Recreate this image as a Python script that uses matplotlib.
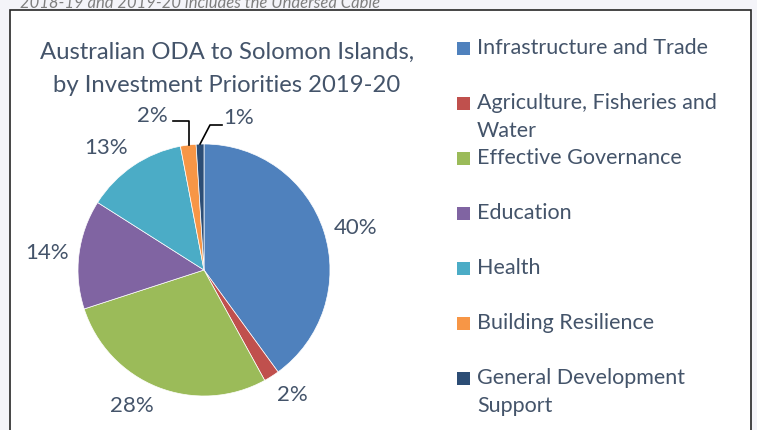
import numpy as np
import matplotlib.pyplot as plt
from matplotlib.patches import Rectangle

categories = ['Infrastructure and Trade', 'Agriculture, Fisheries and\nWater',
              'Effective Governance', 'Education', 'Health',
              'Building Resilience', 'General Development\nSupport']
shares = [40, 2, 28, 14, 13, 2, 1]
colors = ['#4F81BD', '#C0504D', '#9BBB59', '#8064A2', '#4BACC6', '#F79646', '#2C4D75']

title = 'Australian ODA to Solomon Islands,\nby Investment Priorities 2019-20'
note = '2018-19 and 2019-20 includes the Undersea Cable'

text_color = '#44546A'
plt.rcParams['font.family'] = ['Lato', 'DejaVu Sans']

W, H = 757, 430
fig = plt.figure(figsize=(W / 100, H / 100), dpi=100)
fig.patch.set_facecolor('#F4F4F9')

# axes in pixel units, y going up
ax = fig.add_axes([0, 0, 1, 1])

# chart frame
ax.add_patch(Rectangle((10, -5), 741, H - 9.5 + 5, facecolor='white',
                       edgecolor='#262626', lw=1.2, zorder=0))
ax.text(20, H - 3, note, fontsize=12, style='italic', color='#7F7F7F',
        ha='left', va='center')

cx, cy, r = 204, H - 270, 126
wedges, _ = ax.pie(shares, colors=colors, startangle=90, counterclock=False,
                   center=(cx, cy), radius=r, frame=True,
                   wedgeprops=dict(edgecolor='white', linewidth=0.5))
ax.set_xlim(0, W)
ax.set_ylim(0, H)
ax.set_aspect('equal')
ax.axis('off')

for k, line in enumerate(title.split('\n')):
    ax.text(227, H - 52 - 34 * k, line, fontsize=17.2, color=text_color,
            ha='center', va='center')

# percentage labels just outside the arc
for w, v in zip(wedges[:5], shares[:5]):
    ang = np.deg2rad((w.theta1 + w.theta2) / 2)
    dx, dy = np.cos(ang), np.sin(ang)
    px, py = cx + (r + 10) * dx, cy + (r + 10) * dy
    ha = 'left' if dx > 0.3 else ('right' if dx < -0.3 else 'center')
    va = 'bottom' if dy > 0.5 else ('top' if dy < -0.5 else 'center')
    ax.text(px, py, f'{v}%', fontsize=16, color=text_color, ha=ha, va=va)

# small slices at the top get leader lines
w_or, w_nv = wedges[5], wedges[6]
a = np.deg2rad((w_or.theta1 + w_or.theta2) / 2)
ex, ey = cx + r * np.cos(a), cy + r * np.sin(a)
ax.plot([173, ex + 1, ex + 1], [H - 121, H - 121, ey], color='black', lw=1.2)
ax.text(168, H - 116, f'{shares[5]}%', fontsize=16, color=text_color,
        ha='right', va='center')

a = np.deg2rad((w_nv.theta1 + w_nv.theta2) / 2)
ex, ey = cx + r * np.cos(a), cy + r * np.sin(a)
ax.plot([222, 210, ex], [H - 125, H - 125, ey], color='black', lw=1.2)
ax.text(223, H - 118, f'{shares[6]}%', fontsize=16, color=text_color,
        ha='left', va='center')

# legend
rows_y = [48, 103, 158, 213, 268, 323, 378]
for name, c, y in zip(categories, colors, rows_y):
    ax.add_patch(Rectangle((457, H - y - 6.5), 13, 13, facecolor=c, edgecolor='none'))
    for k, line in enumerate(name.split('\n')):
        ax.text(477, H - y - 28 * k, line, fontsize=15.5, color=text_color,
                ha='left', va='center')

fig.savefig('out.png', dpi=100, facecolor=fig.get_facecolor())
